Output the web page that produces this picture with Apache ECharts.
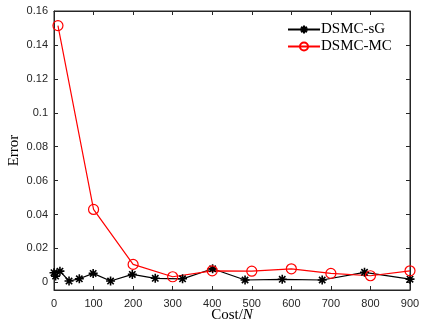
<!DOCTYPE html>
<html><head><meta charset="utf-8">
<script src="https://cdn.jsdelivr.net/npm/echarts@6/dist/echarts.min.js"></script>
<style>html,body{margin:0;padding:0;background:#fff}#c{width:421px;height:326px}</style>
</head><body><div id="c"></div>
<script>
const sgCost = [0, 4, 15, 38, 64, 99, 143, 198, 256, 325, 401, 483, 577, 678, 785, 900];
const sgError = [0.0057, 0.0037, 0.0066, 0.0008, 0.0021, 0.0053, 0.0008, 0.0047, 0.0024, 0.0021, 0.0080, 0.0014, 0.0018, 0.0014, 0.0059, 0.0019];
const mcCost = [10, 100, 200, 300, 400, 500, 600, 700, 800, 900];
const mcError = [0.1514, 0.0430, 0.0106, 0.0033, 0.0068, 0.0066, 0.0080, 0.0053, 0.0039, 0.0068];
const yTicks = [0, 0.02, 0.04, 0.06, 0.08, 0.1, 0.12, 0.14, 0.16];

const axisColor = '#262626';
const star = 'path://M0,-10L0,10M-10,0L10,0M-7.07,-7.07L7.07,7.07M-7.07,7.07L7.07,-7.07';
const chart = echarts.init(document.getElementById('c'));
chart.setOption({
  animation: false,
  grid: {left: 54, right: 11, top: 11, bottom: 36, containLabel: false, outerBoundsMode: 'none',
    show: true, borderColor: axisColor, borderWidth: 1, backgroundColor: 'rgba(0,0,0,0)'},
  legend: {
    left: 282, top: 17, orient: 'vertical', itemWidth: 32, itemHeight: 10, itemGap: 2,
    textStyle: {fontFamily: 'Liberation Serif', fontSize: 15, color: '#000', padding: [0,0,0,-4]},
    data: ['DSMC-sG', 'DSMC-MC']
  },
  xAxis: [
    {type: 'value', min: 0, max: 900, interval: 100, position: 'bottom',
      axisLine: {show: true, onZero: false, lineStyle: {color: axisColor, width: 1}},
      axisTick: {show: true, inside: true, length: 4, lineStyle: {color: axisColor}},
      splitLine: {show: false},
      name: '{a|Cost/}{b|N}', nameLocation: 'middle', nameGap: 18, nameMoveOverlap: false,
      nameTextStyle: {rich: {a: {fontFamily: 'Liberation Serif', fontSize: 15, color: '#000'},
                             b: {fontFamily: 'Liberation Serif', fontStyle: 'italic', fontSize: 15, color: '#000'}}},
      axisLabel: {color: axisColor, fontFamily: 'Liberation Sans', fontSize: 11, margin: 8}},
    {type: 'value', min: 0, max: 900, interval: 100, position: 'top',
      axisLine: {show: true, onZero: false, lineStyle: {color: axisColor, width: 1}},
      axisTick: {show: true, inside: true, length: 4, lineStyle: {color: axisColor}},
      splitLine: {show: false},
      axisLabel: {show: false}}
  ],
  yAxis: [
    {type: 'value', min: -0.0045, max: 0.16, position: 'left',
      axisLine: {show: true, onZero: false, lineStyle: {color: axisColor, width: 1}},
      axisTick: {show: true, inside: true, length: 4, lineStyle: {color: axisColor}, customValues: yTicks},
      splitLine: {show: false},
      name: 'Error', nameLocation: 'middle', nameGap: 32, nameMoveOverlap: false,
      nameTextStyle: {fontFamily: 'Liberation Serif', fontSize: 15, color: '#000'},
      axisLabel: {color: axisColor, fontFamily: 'Liberation Sans', fontSize: 11, margin: 6,
        customValues: yTicks, formatter: v => String(Number(v.toFixed(2)))}},
    {type: 'value', min: -0.0045, max: 0.16, position: 'right',
      axisLine: {show: true, onZero: false, lineStyle: {color: axisColor, width: 1}},
      axisTick: {show: true, inside: true, length: 4, lineStyle: {color: axisColor}, customValues: yTicks},
      splitLine: {show: false},
      axisLabel: {show: false, customValues: yTicks}}
  ],
  series: [
    {name: 'DSMC-sG', type: 'line', data: sgCost.map((c, i) => [c, sgError[i]]),
      symbol: star, symbolSize: 9, showAllSymbol: true,
      lineStyle: {color: '#000', width: 1.2},
      itemStyle: {color: '#000', borderColor: '#000', borderWidth: 1.6},
      markLine: {silent: true, symbol: 'none', label: {show: false},
        lineStyle: {color: axisColor, width: 1, type: 'solid'},
        data: [{yAxis: yTicks[yTicks.length - 1]}]}},
    {name: 'DSMC-MC', type: 'line', data: mcCost.map((c, i) => [c, mcError[i]]),
      symbol: 'circle', symbolSize: 10, showAllSymbol: true,
      lineStyle: {color: '#ff0000', width: 1.2},
      itemStyle: {color: 'rgba(255,255,255,0)', borderColor: '#ff0000', borderWidth: 1.2}}
  ]
});
</script></body></html>
